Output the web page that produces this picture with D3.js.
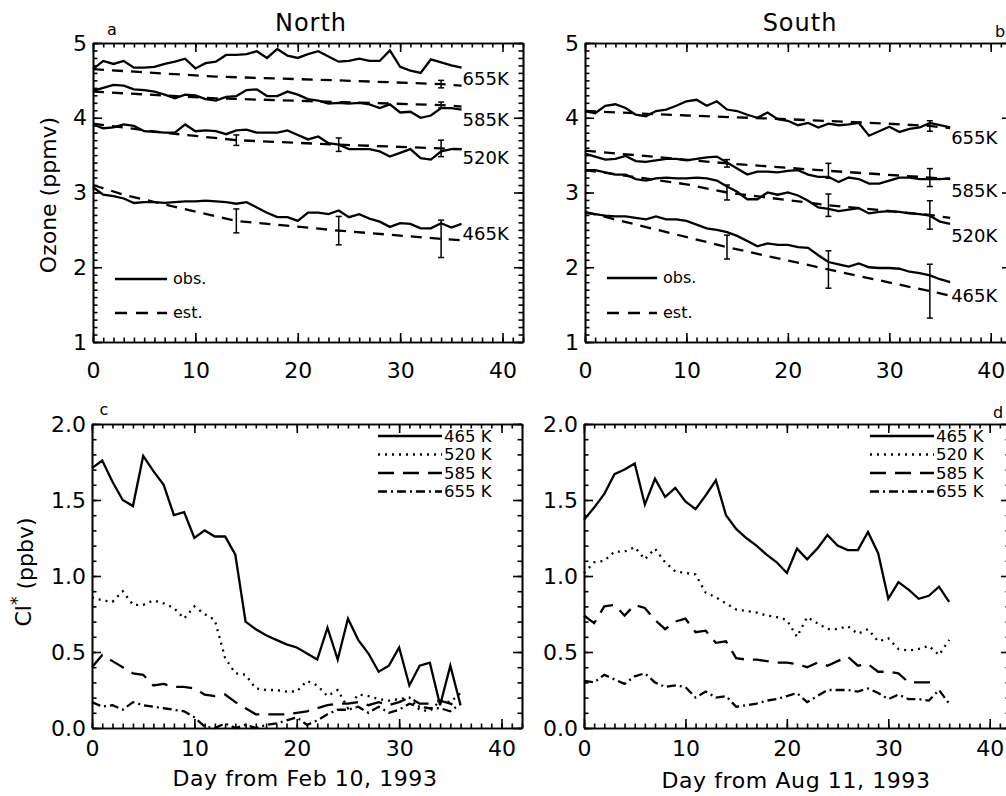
<!DOCTYPE html>
<meta charset="utf-8">
<style>
body { margin: 0; background: #fff; }
svg text { font-family: "DejaVu Sans", sans-serif; fill: #000; }
.axis path, .axis line { stroke: #000; stroke-width: 1.6px; }
.axis text { font-size: 22px; }
.obs { fill: none; stroke: #000; stroke-width: 2.3px; }
.est { fill: none; stroke: #000; stroke-width: 2.3px; stroke-dasharray: 11,8; }
.err { stroke: #000; stroke-width: 1.5px; }
</style>
<script src="https://d3js.org/d3.v7.min.js"></script>
<body>
<script>
// days since start of each period
var days = [0,1,2,3,4,5,6,7,8,9,10,11,12,13,14,15,16,17,18,19,20,21,22,23,24,25,26,27,28,29,30,31,32,33,34,35,36];
var levels = ["465K", "520K", "585K", "655K"];

// ---- North ozone (ppmv) ----
var nObs655 = [4.65,4.76,4.72,4.76,4.67,4.67,4.68,4.72,4.75,4.79,4.66,4.73,4.75,4.84,4.84,4.85,4.89,4.80,4.92,4.83,4.80,4.85,4.89,4.82,4.75,4.76,4.79,4.76,4.76,4.90,4.68,4.63,4.60,4.78,4.74,4.70,4.67];
var nObs585 = [4.36,4.40,4.44,4.43,4.38,4.37,4.35,4.31,4.26,4.31,4.30,4.25,4.23,4.28,4.29,4.37,4.38,4.29,4.29,4.35,4.31,4.25,4.23,4.19,4.20,4.19,4.20,4.18,4.13,4.18,4.07,4.08,4.00,4.03,4.13,4.13,4.11];
var nObs520 = [3.91,3.86,3.87,3.91,3.89,3.82,3.81,3.80,3.80,3.91,3.82,3.83,3.82,3.78,3.83,3.84,3.80,3.80,3.80,3.83,3.77,3.71,3.75,3.66,3.64,3.58,3.58,3.58,3.55,3.48,3.53,3.58,3.46,3.44,3.55,3.58,3.58];
var nObs465 = [3.07,2.97,2.95,2.92,2.86,2.87,2.87,2.86,2.87,2.88,2.88,2.89,2.88,2.87,2.85,2.87,2.80,2.73,2.67,2.67,2.62,2.73,2.73,2.71,2.76,2.67,2.71,2.65,2.61,2.54,2.59,2.58,2.52,2.52,2.59,2.53,2.58];

var nEstDays655 = [0,12,24,34,36], nEst655 = [4.65,4.55,4.50,4.45,4.43];
var nEstDays585 = [0,12,24,34,36], nEst585 = [4.35,4.26,4.21,4.17,4.15];
var nEstDays520 = [0,7,14,24,34,36], nEst520 = [3.92,3.80,3.70,3.64,3.59,3.58];
var nEstDays465 = [0,3,7,14,24,34,36], nEst465 = [3.10,2.97,2.84,2.62,2.49,2.38,2.36];

// error bars: [level, day, centre, half-width]
var nErr = [
  ["655K",34,4.45,0.05],
  ["585K",34,4.17,0.04],
  ["520K",14,3.70,0.07],["520K",24,3.64,0.09],["520K",34,3.59,0.11],
  ["465K",14,2.62,0.16],["465K",24,2.49,0.19],["465K",34,2.38,0.25]
];
var nLabelY = [2.45, 3.47, 3.98, 4.53];

// ---- South ozone (ppmv) ----
var sObs655 = [4.09,4.06,4.16,4.18,4.13,4.04,4.02,4.09,4.11,4.16,4.22,4.24,4.16,4.22,4.11,4.09,4.04,4.00,4.07,3.98,3.96,3.90,3.93,3.87,3.92,3.90,3.91,3.93,3.76,3.82,3.88,3.81,3.85,3.87,3.93,3.90,3.87];
var sObs585 = [3.52,3.48,3.44,3.45,3.49,3.42,3.41,3.43,3.45,3.45,3.43,3.45,3.47,3.48,3.40,3.32,3.24,3.28,3.28,3.27,3.29,3.30,3.24,3.21,3.21,3.14,3.20,3.18,3.12,3.12,3.16,3.20,3.20,3.18,3.18,3.18,3.19];
var sObs520 = [3.30,3.30,3.27,3.24,3.24,3.18,3.16,3.19,3.20,3.19,3.19,3.20,3.19,3.16,3.08,3.01,2.91,2.91,3.00,2.97,3.00,2.96,2.89,2.80,2.78,2.75,2.77,2.79,2.72,2.74,2.75,2.74,2.72,2.71,2.69,2.61,2.58];
var sObs465 = [2.73,2.71,2.69,2.68,2.68,2.66,2.64,2.68,2.64,2.64,2.62,2.57,2.52,2.50,2.47,2.42,2.35,2.28,2.32,2.30,2.30,2.27,2.26,2.16,2.07,2.04,2.01,2.05,2.00,1.99,1.99,1.98,1.94,1.92,1.89,1.84,1.80];

var sEstDays655 = [0,10,20,30,34,36], sEst655 = [4.09,4.03,3.98,3.92,3.89,3.86];
var sEstDays585 = [0,14,24,34,36], sEst585 = [3.56,3.39,3.29,3.20,3.18];
var sEstDays520 = [0,10,14,24,34,36], sEst520 = [3.30,3.11,3.00,2.83,2.70,2.66];
var sEstDays465 = [0,14,24,34,36], sEst465 = [2.74,2.27,1.97,1.68,1.62];

var sErr = [
  ["655K",34,3.89,0.07],
  ["585K",14,3.39,0.05],["585K",24,3.29,0.10],["585K",34,3.20,0.12],
  ["520K",14,3.00,0.10],["520K",24,2.83,0.15],["520K",34,2.70,0.19],
  ["465K",14,2.27,0.16],["465K",24,1.97,0.25],["465K",34,1.68,0.36]
];
var sLabelY = [1.62, 2.42, 3.03, 3.74];

// ---- Cl* (ppbv) ----
var cN465 = [1.71,1.76,1.62,1.50,1.46,1.79,1.69,1.60,1.40,1.42,1.25,1.30,1.26,1.26,1.14,0.70,0.65,0.61,0.58,0.55,0.53,0.49,0.45,0.66,0.45,0.72,0.58,0.49,0.37,0.41,0.53,0.28,0.41,0.43,0.15,0.41,0.15];
var cN520 = [0.86,0.84,0.83,0.90,0.81,0.81,0.84,0.82,0.79,0.72,0.80,0.75,0.71,0.46,0.36,0.35,0.26,0.25,0.25,0.24,0.24,0.31,0.28,0.21,0.25,0.13,0.22,0.21,0.19,0.18,0.19,0.20,0.12,0.11,0.18,0.17,0.23];
var cN585 = [0.40,0.48,0.44,0.40,0.36,0.35,0.28,0.29,0.27,0.27,0.26,0.22,0.21,0.22,0.17,0.13,0.09,0.09,0.09,0.09,0.10,0.11,0.13,0.15,0.16,0.16,0.17,0.15,0.17,0.15,0.17,0.20,0.16,0.16,0.18,0.16,0.13];
var cN655 = [0.17,0.14,0.15,0.12,0.17,0.15,0.14,0.13,0.12,0.11,0.07,0.01,0.00,0.03,0.00,0.02,0.00,0.02,0.03,0.05,0.07,0.02,0.05,0.09,0.12,0.12,0.14,0.10,0.14,0.10,0.12,0.16,0.14,0.13,0.13,0.11,0.16];

var cS465 = [1.37,1.45,1.54,1.67,1.70,1.74,1.47,1.64,1.52,1.58,1.49,1.44,1.53,1.63,1.40,1.31,1.25,1.20,1.14,1.09,1.02,1.18,1.11,1.18,1.27,1.20,1.17,1.17,1.29,1.15,0.85,0.96,0.91,0.85,0.87,0.93,0.83];
var cS520 = [1.02,1.09,1.10,1.16,1.16,1.19,1.11,1.18,1.09,1.03,1.02,1.01,0.89,0.86,0.82,0.78,0.77,0.76,0.74,0.73,0.71,0.60,0.73,0.69,0.65,0.65,0.67,0.62,0.65,0.57,0.59,0.52,0.51,0.52,0.54,0.48,0.58];
var cS585 = [0.74,0.69,0.80,0.81,0.74,0.81,0.79,0.71,0.65,0.70,0.72,0.63,0.64,0.56,0.57,0.46,0.45,0.45,0.44,0.43,0.43,0.42,0.40,0.43,0.41,0.44,0.47,0.41,0.42,0.37,0.37,0.36,0.30,0.30,0.30,0.30,null];
var cS655 = [0.31,0.30,0.35,0.32,0.29,0.34,0.36,0.30,0.27,0.28,0.27,0.20,0.24,0.20,0.21,0.14,0.15,0.16,0.18,0.19,0.21,0.23,0.17,0.21,0.25,0.25,0.25,0.24,0.26,0.23,0.19,0.22,0.19,0.19,0.18,0.25,0.16];

var clLegend = ["465 K", "520 K", "585 K", "655 K"];
var clDash = [null, "2,5", "16,9", "9,4,2,4"];

var xTicks = [0,10,20,30,40];
var ozTicks = [1,2,3,4,5];
var clTicks = [0,0.5,1.0,1.5,2.0];

var svg = d3.select("body").append("svg")
  .attr("width", 1006).attr("height", 796);

// IDL style box: inward ticks on all four sides, minor ticks
function frame(g, x, y, yMajor, yMinor, yFmt, xLabY) {
  var w = x.range()[1], h = y.range()[0];
  g.append("g").attr("class", "axis").attr("transform", "translate(0," + h + ")")
    .call(d3.axisBottom(x).tickValues(xTicks).tickSize(-9).tickSizeOuter(0).tickPadding(xLabY))
  g.append("g").attr("class", "axis").attr("transform", "translate(0," + h + ")")
    .call(d3.axisBottom(x).tickValues(d3.range(0, 43)).tickSize(-4.5).tickSizeOuter(0).tickFormat(""));
  g.append("g").attr("class", "axis")
    .call(d3.axisTop(x).tickValues(xTicks).tickSize(-9).tickSizeOuter(0).tickFormat(""));
  g.append("g").attr("class", "axis")
    .call(d3.axisTop(x).tickValues(d3.range(0, 43)).tickSize(-4.5).tickSizeOuter(0).tickFormat(""));
  g.append("g").attr("class", "axis")
    .call(d3.axisLeft(y).tickValues(yMajor).tickSize(-9).tickSizeOuter(0).tickPadding(6).tickFormat(yFmt));
  g.append("g").attr("class", "axis")
    .call(d3.axisLeft(y).tickValues(yMinor).tickSize(-4.5).tickSizeOuter(0).tickFormat(""));
  g.append("g").attr("class", "axis").attr("transform", "translate(" + w + ",0)")
    .call(d3.axisRight(y).tickValues(yMajor).tickSize(-9).tickSizeOuter(0).tickFormat(""));
  g.append("g").attr("class", "axis").attr("transform", "translate(" + w + ",0)")
    .call(d3.axisRight(y).tickValues(yMinor).tickSize(-4.5).tickSizeOuter(0).tickFormat(""));
}

// ---------- ozone panels ----------
function ozonePanel(left, top, pw, obs, estDays, est, err, labY, leg) {
  var g = svg.append("g").attr("transform", "translate(" + left + "," + top + ")");
  var x = d3.scaleLinear().domain([0, 42]).range([0, pw]);
  var y = d3.scaleLinear().domain([1, 5]).range([299, 0]);
  var minor = d3.range(10, 51).map(function (d) { return d / 10; });
  frame(g, x, y, ozTicks, minor, d3.format("d"), 20);

  var line = d3.line().x(function (d) { return x(d[0]); }).y(function (d) { return y(d[1]); });
  obs.forEach(function (s, i) {
    g.append("path").attr("class", "obs")
      .attr("d", line(days.map(function (d, j) { return [d, s[j]]; })));
    g.append("path").attr("class", "est")
      .attr("d", line(estDays[i].map(function (d, j) { return [d, est[i][j]]; })));
    g.append("text").attr("x", x(36) + 1).attr("y", y(labY[i]))
      .attr("dy", "0.36em").style("font-size", "18px").text(levels[i]);
  });
  err.forEach(function (e) {
    var cx = x(e[1]);
    g.append("line").attr("class", "err").attr("x1", cx).attr("x2", cx)
      .attr("y1", y(e[2] - e[3])).attr("y2", y(e[2] + e[3]));
    [e[2] - e[3], e[2] + e[3]].forEach(function (v) {
      g.append("line").attr("class", "err").attr("x1", cx - 3).attr("x2", cx + 3)
        .attr("y1", y(v)).attr("y2", y(v));
    });
  });

  // obs / est key
  g.append("line").attr("class", "obs").attr("x1", leg[0]).attr("x2", leg[1])
    .attr("y1", leg[2]).attr("y2", leg[2]);
  g.append("text").attr("x", leg[1] + 6).attr("y", leg[2]).attr("dy", "0.3em")
    .style("font-size", "16px").text("obs.");
  g.append("line").attr("class", "est").attr("x1", leg[0]).attr("x2", leg[1])
    .attr("y1", leg[3]).attr("y2", leg[3]).style("stroke-dasharray", "12,9");
  g.append("text").attr("x", leg[1] + 6).attr("y", leg[3]).attr("dy", "0.3em")
    .style("font-size", "16px").text("est.");
  return g;
}

ozonePanel(93, 43, 430, [nObs465, nObs520, nObs585, nObs655],
  [nEstDays465, nEstDays520, nEstDays585, nEstDays655], [nEst465, nEst520, nEst585, nEst655],
  nErr, nLabelY, [22, 74, 236, 270]);
ozonePanel(585, 43, 426, [sObs465, sObs520, sObs585, sObs655],
  [sEstDays465, sEstDays520, sEstDays585, sEstDays655], [sEst465, sEst520, sEst585, sEst655],
  sErr, sLabelY, [22, 72, 235, 270]);

// ---------- Cl* panels ----------
function clPanel(left, top, pw, series) {
  var g = svg.append("g").attr("transform", "translate(" + left + "," + top + ")");
  var x = d3.scaleLinear().domain([0, 42]).range([0, pw]);
  var y = d3.scaleLinear().domain([0, 2]).range([304, 0]);
  var minor = d3.range(0, 21).map(function (d) { return d / 10; });
  frame(g, x, y, clTicks, minor, d3.format(".1f"), 12);

  var line = d3.line().defined(function (d) { return d[1] != null; })
    .x(function (d) { return x(d[0]); }).y(function (d) { return y(d[1]); });
  series.forEach(function (s, i) {
    g.append("path").attr("class", "obs").style("stroke-dasharray", clDash[i])
      .attr("d", line(days.map(function (d, j) { return [d, s[j]]; })));
    var ly = 12 + i * 18.5;
    g.append("line").attr("class", "obs").style("stroke-dasharray", clDash[i])
      .attr("x1", 286).attr("x2", 350).attr("y1", ly).attr("y2", ly);
    g.append("text").attr("x", 352).attr("y", ly).attr("dy", "0.36em")
      .style("font-size", "16.5px").text(clLegend[i]);
  });
  return g;
}

clPanel(92, 424, 430, [cN465, cN520, cN585, cN655]);
clPanel(584, 424, 426, [cS465, cS520, cS585, cS655]);

// ---------- titles and labels ----------
svg.append("text").attr("x", 311).attr("y", 31).attr("text-anchor", "middle")
  .style("font-size", "24px").style("letter-spacing", "1px").text("North");
svg.append("text").attr("x", 800).attr("y", 31).attr("text-anchor", "middle")
  .style("font-size", "24px").style("letter-spacing", "1px").text("South");

svg.append("text").attr("x", 112).attr("y", 35).attr("text-anchor", "middle").style("font-size", "16px").text("a");
svg.append("text").attr("x", 1000).attr("y", 37).attr("text-anchor", "middle").style("font-size", "16px").text("b");
svg.append("text").attr("x", 104).attr("y", 415).attr("text-anchor", "middle").style("font-size", "16px").text("c");
svg.append("text").attr("x", 998).attr("y", 418).attr("text-anchor", "middle").style("font-size", "16px").text("d");

svg.append("text").attr("transform", "translate(56,195) rotate(-90)")
  .attr("text-anchor", "middle").style("font-size", "22px").text("Ozone (ppmv)");

var cl = svg.append("text").attr("transform", "translate(31,572) rotate(-90)")
  .attr("text-anchor", "middle").style("font-size", "22px");
cl.append("tspan").text("Cl");
cl.append("tspan").attr("dy", "-0.45em").style("font-size", "17px").text("*");
cl.append("tspan").attr("dy", "0.45em").text(" (ppbv)");

svg.append("text").attr("x", 305).attr("y", 786).attr("text-anchor", "middle")
  .style("font-size", "22px").style("letter-spacing", "0.6px").text("Day from Feb 10, 1993");
svg.append("text").attr("x", 796).attr("y", 788).attr("text-anchor", "middle")
  .style("font-size", "22px").style("letter-spacing", "0.6px").text("Day from Aug 11, 1993");
</script>
